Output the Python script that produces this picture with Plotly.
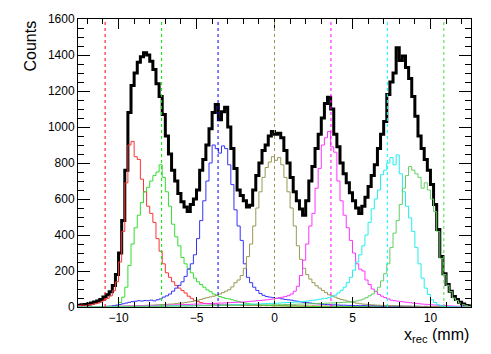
import numpy as np
import plotly.graph_objects as go

# binning of x_rec (mm)
x_lo, x_hi, n_bins = -12.6, 12.6, 126

# component histograms, one value per bin (0.2 mm bins)
red = [8, 10, 9, 12, 14, 18, 22, 28, 38, 48,
       62, 90, 140, 250, 420, 690, 900, 920, 835, 820,
       710, 640, 560, 520, 470, 380, 310, 240, 190, 165,
       140, 120, 105, 92, 78, 60, 48, 36, 30, 24,
       20, 18, 17, 15, 16, 13, 12, 14, 11, 12,
       10, 11, 9, 10, 8, 9, 10, 8, 7, 8,
       7, 8, 6, 7, 8, 6, 7, 5, 6, 7,
       6, 5, 6, 5, 4, 6, 5, 5, 4, 5,
       4, 5, 4, 4, 5, 3, 4, 4, 3, 4,
       3, 4, 3, 3, 4, 3, 2, 3, 3, 2,
       3, 2, 2, 3, 2, 2, 3, 2, 2, 2,
       2, 2, 1, 2, 2, 1, 2, 1, 1, 2,
       1, 1, 1, 1, 0, 1]

green = [0, 0, 0, 0, 0, 0, 0, 1, 1, 2,
         3, 5, 10, 25, 55, 110, 230, 350, 440, 510,
         580, 640, 665, 700, 730, 750, 790, 720, 640, 560,
         460, 390, 340, 275, 240, 215, 190, 160, 140, 125,
         110, 95, 85, 72, 65, 58, 52, 48, 45, 40,
         35, 30, 25, 22, 18, 16, 14, 12, 11, 10,
         9, 8, 8, 7, 6, 7, 6, 5, 6, 5,
         5, 4, 5, 4, 4, 3, 4, 3, 3, 4,
         3, 3, 2, 3, 3, 2, 2, 3, 2, 2,
         2, 2, 2, 1, 2, 2, 1, 2, 1, 1,
         1, 1, 2, 1, 1, 1, 1, 1, 1, 0,
         1, 0, 1, 1, 0, 1, 0, 0, 1, 0,
         0, 0, 0, 0, 0, 0]

blue = [0, 0, 1, 0, 1, 1, 2, 2, 3, 4,
        5, 7, 10, 14, 18, 22, 26, 30, 32, 35,
        33, 36, 35, 38, 34, 40, 45, 55, 62, 72,
        88, 105, 120, 140, 170, 210, 240, 290, 380, 480,
        590, 700, 800, 900, 880, 855, 895, 880, 790, 680,
        540, 450, 370, 240, 165, 135, 110, 92, 75, 65,
        58, 55, 52, 48, 50, 45, 42, 40, 38, 34,
        32, 28, 26, 24, 22, 20, 18, 17, 15, 14,
        13, 12, 12, 11, 10, 10, 9, 9, 8, 8,
        7, 8, 7, 6, 7, 6, 6, 5, 6, 5,
        5, 5, 4, 5, 4, 4, 4, 3, 4, 3,
        3, 3, 3, 2, 3, 2, 2, 2, 2, 1,
        1, 1, 1, 1, 0, 1]

olive = [1, 1, 2, 1, 2, 2, 2, 3, 2, 3,
         3, 3, 4, 4, 5, 5, 6, 6, 7, 8,
         8, 9, 10, 10, 11, 12, 13, 14, 15, 16,
         17, 19, 21, 22, 25, 28, 30, 34, 38, 42,
         48, 52, 56, 60, 66, 72, 80, 88, 96, 112,
         135, 150, 175, 215, 280, 350, 450, 550, 640, 720,
         775, 805, 835, 815, 830, 790, 720, 640, 550, 450,
         340, 265, 215, 180, 155, 135, 118, 105, 92, 80,
         68, 62, 55, 48, 42, 38, 32, 28, 24, 21,
         18, 16, 15, 13, 12, 11, 10, 9, 9, 8,
         7, 7, 6, 6, 5, 5, 5, 4, 4, 4,
         3, 4, 3, 3, 2, 3, 2, 2, 2, 2,
         1, 2, 1, 1, 1, 1]

magenta = [0, 1, 1, 1, 1, 2, 1, 2, 2, 2,
           3, 3, 3, 4, 4, 5, 5, 5, 6, 6,
           6, 7, 7, 8, 8, 9, 9, 10, 10, 11,
           11, 12, 12, 13, 14, 14, 15, 16, 16, 17,
           18, 18, 19, 20, 21, 22, 22, 23, 24, 25,
           26, 27, 28, 28, 30, 32, 33, 35, 36, 38,
           40, 42, 44, 47, 50, 54, 58, 63, 72, 88,
           115, 175, 260, 350, 450, 520, 660, 770, 900, 940,
           975, 890, 860, 700, 590, 510, 440, 370, 300, 240,
           210, 200, 150, 125, 100, 85, 70, 60, 52, 45,
           38, 35, 33, 30, 28, 26, 24, 22, 20, 18,
           16, 15, 14, 12, 11, 10, 9, 8, 7, 6,
           5, 4, 4, 3, 3, 2]

cyan = [0, 0, 1, 0, 1, 1, 1, 1, 2, 1,
        2, 2, 2, 3, 2, 3, 3, 3, 4, 3,
        4, 4, 4, 5, 4, 5, 5, 5, 6, 6,
        6, 7, 6, 7, 7, 8, 7, 8, 8, 9,
        9, 9, 10, 10, 10, 11, 11, 12, 12, 12,
        13, 13, 14, 14, 15, 15, 16, 17, 17, 18,
        19, 20, 20, 21, 22, 23, 24, 25, 26, 27,
        28, 30, 31, 33, 35, 37, 40, 43, 46, 48,
        52, 58, 66, 78, 92, 110, 135, 165, 205, 250,
        290, 340, 400, 470, 545, 600, 650, 735, 760, 800,
        830, 790, 845, 740, 640, 560, 495, 420, 330, 240,
        160, 105, 70, 40, 25, 12, 6, 3, 2, 1,
        1, 0, 1, 0, 0, 0]

lgreen = [0, 0, 0, 1, 0, 1, 1, 1, 1, 1,
          1, 1, 2, 1, 2, 2, 2, 2, 3, 2,
          3, 3, 3, 3, 4, 3, 4, 4, 4, 5,
          5, 5, 5, 6, 5, 6, 6, 7, 6, 7,
          7, 7, 8, 7, 8, 8, 9, 8, 9, 9,
          9, 10, 10, 10, 11, 10, 11, 11, 12, 11,
          12, 12, 13, 12, 13, 13, 14, 14, 15, 15,
          16, 16, 17, 17, 18, 18, 19, 20, 20, 21,
          22, 22, 23, 24, 25, 26, 27, 29, 31, 34,
          38, 44, 52, 62, 72, 88, 110, 145, 185, 240,
          330, 410, 480, 570, 660, 730, 780, 760, 740, 720,
          660, 690, 650, 600, 530, 420, 270, 180, 120, 86,
          50, 36, 22, 13, 7, 3]

# total (black)
total = [10, 12, 14, 17, 22, 28, 34, 42, 55, 68,
         85, 120, 180, 300, 480, 760, 1080, 1230, 1300, 1360,
         1390, 1412, 1400, 1365, 1320, 1240, 1170, 1070, 950, 850,
         760, 700, 630, 585, 555, 530, 570, 600, 650, 760,
         820, 900, 990, 1080, 1125, 1040, 1085, 1110, 1000, 880,
         770, 650, 620, 590, 555, 565, 650, 730, 800, 870,
         900, 950, 975, 960, 965, 940, 870, 800, 720, 640,
         590, 545, 510, 590, 700, 780, 880, 960, 1050, 1130,
         1165, 1100, 960, 890, 800, 740, 690, 635, 590, 550,
         520, 560, 610, 670, 730, 790, 880, 960, 1030, 1180,
         1250, 1300, 1440, 1370, 1395, 1330, 1270, 1170, 1060, 950,
         880, 820, 760, 680, 570, 430, 280, 185, 125, 88,
         58, 42, 26, 16, 9, 5]

# strip positions marked by dotted lines (mm)
strip_pos = [-10.86, -7.24, -3.62, 0.0, 3.62, 7.24, 10.86]

components = [red, green, blue, olive, magenta, cyan, lgreen]
colors = ['#ff0000', '#00ee00', '#0000ff', '#999955', '#ff00ff', '#00ffff', '#44dd44']
line_colors = ['#ff3333', '#33dd33', '#3333ff', '#999955', '#ff33ff', '#22eeee', '#66cc66']

edges = np.linspace(x_lo, x_hi, n_bins + 1)


def step(vals):
    return list(edges), list(vals) + [vals[-1]]


fig = go.Figure()

ex, ey = step(total)
fig.add_trace(go.Scatter(x=ex, y=ey, mode='lines', line_shape='hv',
                         line=dict(color='black', width=3), showlegend=False))

for vals, c in zip(components, line_colors):
    ex, ey = step(vals)
    fig.add_trace(go.Scatter(x=ex, y=ey, mode='lines', line_shape='hv',
                             line=dict(color=c, width=1), showlegend=False))

for xp, c in zip(strip_pos, colors):
    fig.add_shape(type='line', x0=xp, x1=xp, y0=0, y1=1, xref='x', yref='paper',
                  line=dict(color=c, width=1, dash='dot'))

axis_font = dict(family='Liberation Sans, Arial, sans-serif', size=12, color='black')

fig.update_xaxes(range=[x_lo, x_hi], tickvals=[-10, -5, 0, 5, 10],
                 ticks='inside', ticklen=10, tickcolor='black',
                 minor=dict(ticks='inside', ticklen=5, dtick=1, tick0=0, tickcolor='black'),
                 showline=True, linecolor='black', linewidth=1, mirror='allticks',
                 showgrid=False, zeroline=False, tickfont=axis_font)
fig.update_yaxes(range=[0, 1600], dtick=200,
                 ticks='inside', ticklen=12, tickcolor='black',
                 minor=dict(ticks='inside', ticklen=6, dtick=50, tickcolor='black'),
                 showline=True, linecolor='black', linewidth=1, mirror='allticks',
                 showgrid=False, zeroline=False, tickfont=axis_font)

title_font = dict(family='Liberation Sans, Arial, sans-serif', size=16, color='black')
fig.add_annotation(text='Counts', textangle=-90, xref='paper', yref='paper',
                   x=-0.122, y=1.0, xanchor='center', yanchor='top',
                   showarrow=False, font=title_font)
fig.add_annotation(text='x<sub>rec</sub> (mm)', xref='paper', yref='paper',
                   x=1.0, y=-0.1, xanchor='right', yanchor='middle',
                   showarrow=False, font=title_font)

fig.update_layout(width=491, height=354,
                  margin=dict(l=78, r=20, t=17, b=47),
                  plot_bgcolor='white', paper_bgcolor='white')

# page body has a default 8px margin; drop it so the figure sits at the origin
fig.write_html("out.html", config={'displayModeBar': False},
               post_script="document.body.style.margin='0px';")
